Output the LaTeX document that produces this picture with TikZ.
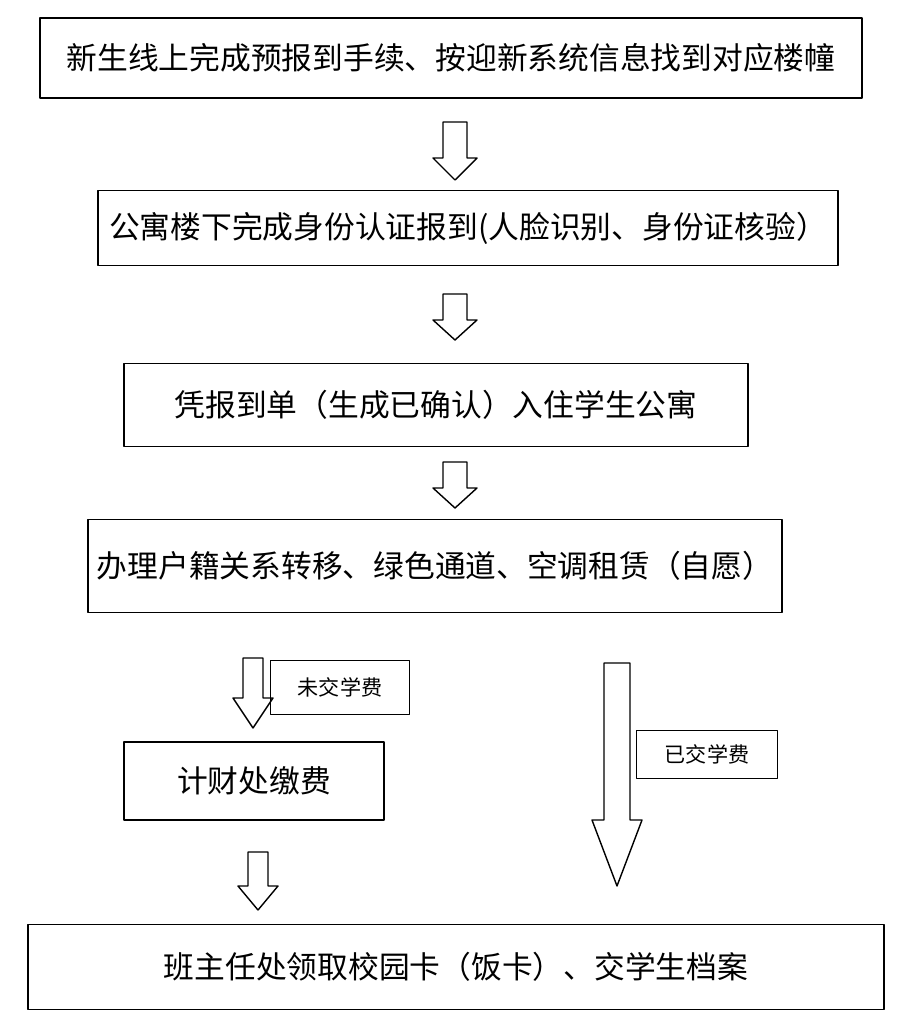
\documentclass[tikz,border=0pt]{standalone}
\usepackage{fontspec}
\setmainfont{Noto Sans CJK SC}
\usetikzlibrary{positioning}
\tikzset{box/.style={draw, thick, rectangle, inner sep=0pt, font=\fontsize{17.5}{20}\selectfont},
         tag/.style={draw, rectangle, inner sep=0pt, font=\fontsize{12}{14}\selectfont}}
% hollow block arrow: x, top y, bottom y, shaft half width, head half width, head length
\newcommand{\blockarrow}[6]{%
  \draw[thick] (#1-#4,#2) -- (#1+#4,#2) -- (#1+#4,#3-#6) -- (#1+#5,#3-#6) -- (#1,#3)
    -- (#1-#5,#3-#6) -- (#1-#4,#3-#6) -- cycle;}

\begin{document}
\begin{tikzpicture}[x=0.02cm, y=-0.02cm, line join=round]
    \useasboundingbox (0,0) rectangle (905,1024);

    \node[box, minimum width=822*0.02cm, minimum height=80*0.02cm] (reg) at (451,58) {新生线上完成预报到手续、按迎新系统信息找到对应楼幢};
    \node[box, minimum width=740*0.02cm, minimum height=75*0.02cm] (auth) at (468,228) {公寓楼下完成身份认证报到(人脸识别、身份证核验）};
    \node[box, minimum width=624*0.02cm, minimum height=83*0.02cm] (dorm) at (436,405) {凭报到单（生成已确认）入住学生公寓};
    \node[box, minimum width=694*0.02cm, minimum height=93*0.02cm] (misc) at (435,566) {办理户籍关系转移、绿色通道、空调租赁（自愿）};
    \node[box, minimum width=260*0.02cm, minimum height=78*0.02cm] (pay) at (254,781) {计财处缴费};
    \node[box, minimum width=856*0.02cm, minimum height=85*0.02cm] (card) at (456,967) {班主任处领取校园卡（饭卡）、交学生档案};

    \node[tag, minimum width=139*0.02cm, minimum height=54*0.02cm] (unpaid) at (340,687) {未交学费};
    \node[tag, minimum width=141*0.02cm, minimum height=48*0.02cm] (paid) at (707,754) {已交学费};

    \blockarrow{455}{122}{180}{12}{22}{22}
    \blockarrow{455}{294}{340}{12}{22}{20}
    \blockarrow{455}{462}{508}{12}{22}{20}
    \blockarrow{253}{658}{728}{10}{20}{30}
    \blockarrow{258}{852}{910}{10}{20}{24}
    \blockarrow{617}{663}{886}{13}{25}{66}
\end{tikzpicture}
\end{document}
